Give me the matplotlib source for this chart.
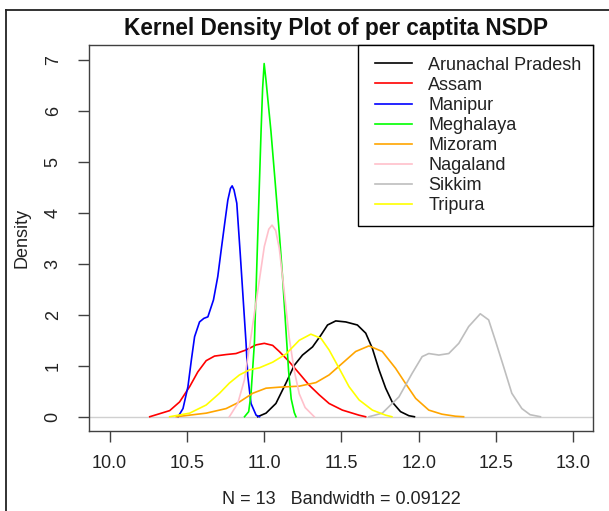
import matplotlib
matplotlib.use('Agg')
import matplotlib.pyplot as plt
from matplotlib.legend_handler import HandlerLine2D
from matplotlib.lines import Line2D

plt.rcParams['font.family'] = ['Liberation Sans', 'DejaVu Sans']

# ---- data ----
states = ["Arunachal Pradesh", "Assam", "Manipur", "Meghalaya",
          "Mizoram", "Nagaland", "Sikkim", "Tripura"]
colors = ["black", "red", "blue", "#00ff00", "orange", "pink", "#bebebe", "yellow"]

arunachal_x = [10.958, 11.012, 11.076, 11.141, 11.195, 11.248, 11.313, 11.367, 11.41, 11.463,
               11.528, 11.603, 11.657, 11.70, 11.743, 11.786, 11.828, 11.882, 11.936, 11.972]
arunachal_y = [0, 0.07, 0.26, 0.66, 1.01, 1.21, 1.37, 1.60, 1.80, 1.88,
               1.86, 1.80, 1.64, 1.34, 0.92, 0.56, 0.29, 0.10, 0.02, 0]

assam_x = [10.26, 10.389, 10.453, 10.518, 10.571, 10.625, 10.679, 10.754, 10.818, 10.883, 10.948,
           11.001, 11.055, 11.098, 11.162, 11.227, 11.291, 11.356, 11.42, 11.506, 11.614, 11.656]
assam_y = [0, 0.12, 0.29, 0.59, 0.88, 1.10, 1.19, 1.22, 1.24, 1.31, 1.41,
           1.44, 1.40, 1.28, 1.08, 0.85, 0.62, 0.43, 0.26, 0.13, 0.03, 0]

manipur_x = [10.443, 10.475, 10.507, 10.529, 10.55, 10.582, 10.61, 10.636, 10.672, 10.70, 10.722,
             10.745, 10.765, 10.782, 10.793, 10.805, 10.823, 10.845, 10.866, 10.883, 10.894,
             10.915, 10.948, 10.97]
manipur_y = [0, 0.16, 0.59, 1.11, 1.57, 1.86, 1.93, 1.96, 2.29, 2.75, 3.27,
             3.80, 4.25, 4.48, 4.53, 4.45, 4.19, 3.21, 2.23, 1.44, 0.80,
             0.26, 0.03, 0]

meghalaya_x = [10.873, 10.90, 10.915, 10.937, 10.958, 10.98, 10.99, 11.0, 11.012, 11.044, 11.07,
               11.098, 11.12, 11.141, 11.158, 11.175, 11.195, 11.206]
meghalaya_y = [0, 0.1, 0.45, 1.45, 3.5, 5.6, 6.44, 6.93, 6.6, 5.6, 4.65,
               3.6, 2.7, 1.7, 0.9, 0.35, 0.08, 0]

mizoram_x = [10.432, 10.625, 10.754, 10.84, 10.926, 11.012, 11.098, 11.227, 11.335, 11.42, 11.506,
             11.592, 11.678, 11.764, 11.85, 11.915, 11.98, 12.065, 12.15, 12.237, 12.29]
mizoram_y = [0, 0.07, 0.16, 0.29, 0.46, 0.56, 0.58, 0.60, 0.67, 0.82, 1.05,
             1.28, 1.39, 1.28, 0.95, 0.65, 0.36, 0.13, 0.05, 0.01, 0]

nagaland_x = [10.775, 10.829, 10.872, 10.905, 10.937, 10.969, 11.001, 11.03, 11.051, 11.075,
              11.098, 11.13, 11.162, 11.195, 11.227, 11.265, 11.324]
nagaland_y = [0, 0.26, 0.72, 1.37, 2.03, 2.68, 3.34, 3.68, 3.76, 3.65,
              3.30, 2.45, 1.55, 0.90, 0.45, 0.18, 0]

sikkim_x = [11.678, 11.764, 11.872, 11.957, 12.022, 12.065, 12.13, 12.194, 12.259, 12.323,
            12.398, 12.452, 12.495, 12.549, 12.602, 12.667, 12.72, 12.787]
sikkim_y = [0, 0.07, 0.39, 0.85, 1.18, 1.24, 1.21, 1.24, 1.44, 1.77,
            2.02, 1.90, 1.50, 0.98, 0.46, 0.16, 0.04, 0]

tripura_x = [10.389, 10.518, 10.625, 10.711, 10.775, 10.84, 10.905, 10.969, 11.055, 11.141,
             11.227, 11.302, 11.367, 11.42, 11.485, 11.549, 11.614, 11.70, 11.786, 11.826]
tripura_y = [0, 0.07, 0.23, 0.46, 0.66, 0.82, 0.92, 0.96, 1.07, 1.23,
             1.50, 1.62, 1.54, 1.31, 0.95, 0.59, 0.33, 0.13, 0.03, 0]

x_ticks = [10.0, 10.5, 11.0, 11.5, 12.0, 12.5, 13.0]
x_tick_labels = ["10.0", "10.5", "11.0", "11.5", "12.0", "12.5", "13.0"]
y_ticks = [0, 1, 2, 3, 4, 5, 6, 7]
y_tick_labels = ["0", "1", "2", "3", "4", "5", "6", "7"]

title = "Kernel Density Plot of per captita NSDP"
x_label = "N = 13   Bandwidth = 0.09122"
y_label = "Density"

series = [(arunachal_x, arunachal_y), (assam_x, assam_y), (manipur_x, manipur_y),
          (meghalaya_x, meghalaya_y), (mizoram_x, mizoram_y), (nagaland_x, nagaland_y),
          (sikkim_x, sikkim_y), (tripura_x, tripura_y)]

# ---- figure ----
W, H = 609, 511
fig = plt.figure(figsize=(W / 100, H / 100), dpi=100)
L, R, T, B = 89.3, 593.3, 45, 431
ax = fig.add_axes([L / W, 1 - B / H, (R - L) / W, (B - T) / H])

ax.axhline(0, color='#d0d0d0', lw=1.0, zorder=1)
for (xs, ys), name, c in zip(series, states, colors):
    ax.plot(xs, ys, color=c, lw=1.2, label=name, zorder=2)

ax.set_xlim(9.869, 13.129)
ax.set_ylim(-0.28, 7.294)
ax.set_xticks(x_ticks)
ax.set_xticklabels(x_tick_labels)
ax.set_yticks(y_ticks)
ax.set_yticklabels(y_tick_labels)

for sp in ax.spines.values():
    sp.set_color('#404040')
    sp.set_linewidth(1.0)
ax.tick_params(axis='both', direction='out', length=7.9, width=1.0, color='#404040',
               labelsize=13, labelcolor='#222222')
ax.tick_params(axis='x', pad=9.5)
ax.tick_params(axis='y', pad=12, labelrotation=90)
for lab in ax.get_yticklabels():
    lab.set_va('center')

ax.set_ylabel(y_label, fontsize=13, color='#222222', va='center')
ax.yaxis.set_label_coords((22.5 - L) / (R - L), 0.5)
ax.set_xlabel(x_label, fontsize=13, color='#222222', va='center')
ax.xaxis.set_label_coords(0.5, -(499 - B) / (B - T))

fig.text(336 / W, 1 - 35 / H, title, ha='center', va='baseline',
         fontsize=16.3, fontweight='bold', color='#111111')

fs = 13 * 100 / 72
leg = ax.legend(loc='upper right', bbox_to_anchor=(1, 1), borderaxespad=0,
                fontsize=13, frameon=True, fancybox=False, framealpha=1,
                edgecolor='black', borderpad=0.65, handlelength=2.38,
                handletextpad=0.886, labelspacing=0.17,
                handler_map={Line2D: HandlerLine2D(xpad=5.3 / fs)})
leg.get_frame().set_linewidth(1.0)
for t in leg.get_texts():
    t.set_color('#222222')

# outer frame of the picture
fig.add_artist(Line2D([6 / W, 6 / W], [0, 1 - 10 / H], transform=fig.transFigure,
                      color='#222222', lw=1.3))
fig.add_artist(Line2D([6 / W, 1], [1 - 10 / H, 1 - 10 / H], transform=fig.transFigure,
                      color='#222222', lw=1.3))

fig.savefig('out.png', dpi=100)
